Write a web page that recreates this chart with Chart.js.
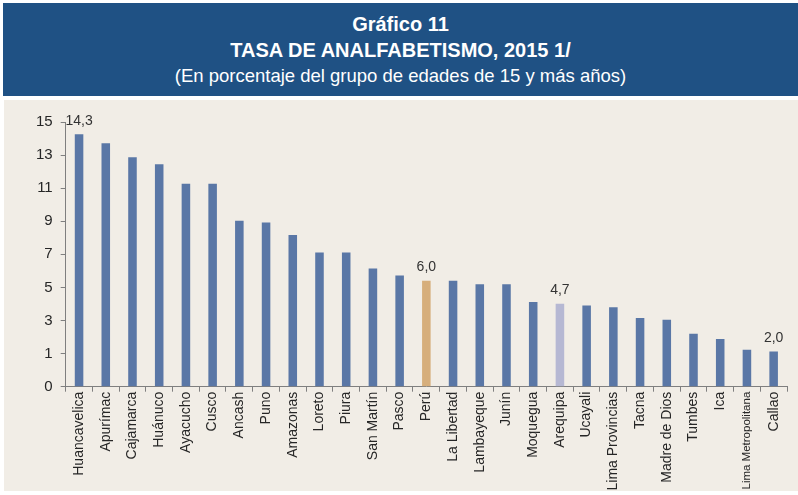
<!DOCTYPE html>
<html>
<head>
<meta charset="utf-8">
<script src="https://cdn.jsdelivr.net/npm/chart.js@4/dist/chart.umd.min.js"></script>
<style>
  html, body { margin: 0; padding: 0; background: #ffffff; }
  body { width: 798px; height: 495px; position: relative; overflow: hidden; font-family: "Liberation Sans", Arial, sans-serif; }
  #banner { position: absolute; left: 3px; top: 3px; width: 795px; height: 93px; background: #1f5184; color: #ffffff; text-align: center; }
  #banner .t1 { position: absolute; left: 0; right: 0; top: 10px; font-size: 20px; font-weight: bold; line-height: 22px; }
  #banner .t2 { position: absolute; left: 0; right: 0; top: 36px; font-size: 20px; font-weight: bold; line-height: 22px; }
  #banner .t3 { position: absolute; left: 0; right: 0; top: 62px; font-size: 18.5px; line-height: 22px; }
  #panel { position: absolute; left: 4px; top: 100px; width: 794px; height: 391px; background: #f1ede6; }
  #chart { position: absolute; left: 4px; top: 100px; }
</style>
</head>
<body>
<div id="banner">
  <div class="t1">Gráfico 11</div>
  <div class="t2">TASA DE ANALFABETISMO, 2015 1/</div>
  <div class="t3">(En porcentaje del grupo de edades de 15 y más años)</div>
</div>
<div id="panel"></div>
<canvas id="chart" width="794" height="395"></canvas>
<script>
// Datos
const regiones = ['Huancavelica', 'Apurímac', 'Cajamarca', 'Huánuco', 'Ayacucho', 'Cusco', 'Ancash', 'Puno',
    'Amazonas', 'Loreto', 'Piura', 'San Martín', 'Pasco', 'Perú', 'La Libertad', 'Lambayeque', 'Junín',
    'Moquegua', 'Arequipa', 'Ucayali', 'Lima Provincias', 'Tacna', 'Madre de Dios', 'Tumbes', 'Ica',
    'Lima Metropolitana', 'Callao'];
const tasas = [14.3, 13.8, 13.0, 12.6, 11.5, 11.5, 9.4, 9.3,
    8.6, 7.6, 7.6, 6.7, 6.3, 6.0, 6.0, 5.8, 5.8,
    4.8, 4.7, 4.6, 4.5, 3.9, 3.8, 3.0, 2.7,
    2.1, 2.0];
// Etiquetas del eje Y tal como aparecen en el original
const yTickLabels = ['0', '1', '3', '5', '7', '9', '11', '13', '15'];
const conEtiqueta = ['Huancavelica', 'Perú', 'Arequipa', 'Callao'];

const colorBase = '#5a77a6';
const colores = regiones.map(function(r) {
    if (r === 'Perú') return '#d6ae7b';
    if (r === 'Arequipa') return '#b6b8d3';
    return colorBase;
});

// Plugin simple para los valores sobre algunas barras
const etiquetasPlugin = {
    id: 'etiquetas',
    afterDatasetsDraw(chart) {
        const ctx = chart.ctx;
        const meta = chart.getDatasetMeta(0);
        ctx.save();
        ctx.font = '14px "Liberation Sans", Arial, sans-serif';
        ctx.fillStyle = '#333333';
        ctx.textAlign = 'center';
        ctx.textBaseline = 'alphabetic';
        regiones.forEach(function(r, i) {
            if (conEtiqueta.indexOf(r) < 0) return;
            const bar = meta.data[i];
            const txt = tasas[i].toFixed(1).replace('.', ',');
            ctx.fillText(txt, bar.x, bar.y - 9.5);
        });
        ctx.restore();
    }
};

new Chart(document.getElementById('chart'), {
    type: 'bar',
    data: {
        labels: regiones,
        datasets: [{
            data: tasas,
            backgroundColor: colores,
            borderWidth: 0,
            categoryPercentage: 1,
            barPercentage: 0.32
        }]
    },
    options: {
        responsive: false,
        animation: false,
        layout: { padding: { left: 0, top: 22, right: 11, bottom: 0 } },
        plugins: {
            legend: { display: false },
            tooltip: { enabled: false }
        },
        scales: {
            x: {
                grid: {
                    offset: true,
                    drawOnChartArea: false,
                    drawTicks: true,
                    tickLength: 5,
                    tickColor: '#7f7f7f'
                },
                border: { display: true, color: '#7f7f7f', width: 1 },
                ticks: {
                    autoSkip: false,
                    maxRotation: 90,
                    minRotation: 90,
                    padding: 0,
                    color: '#262626',
                    font: function(c) {
                        // la etiqueta larga va en letra mas chica, como en el original
                        const larga = regiones[c.index] === 'Lima Metropolitana';
                        return { family: '"Liberation Sans", Arial, sans-serif', size: larga ? 11.5 : 14 };
                    }
                },
                afterFit: function(scale) { scale.height = 108.3; }
            },
            y: {
                min: 0,
                max: 15,
                grid: {
                    drawOnChartArea: false,
                    drawTicks: true,
                    tickLength: 5,
                    tickColor: '#7f7f7f'
                },
                border: { display: true, color: '#7f7f7f', width: 1 },
                ticks: {
                    stepSize: 15 / 8,
                    autoSkip: false,
                    padding: 8,
                    color: '#262626',
                    font: { family: '"Liberation Sans", Arial, sans-serif', size: 15 },
                    callback: function(v, i) { return yTickLabels[i]; }
                },
                afterFit: function(scale) { scale.width = 61.7; }
            }
        }
    },
    plugins: [etiquetasPlugin]
});
</script>
</body>
</html>
